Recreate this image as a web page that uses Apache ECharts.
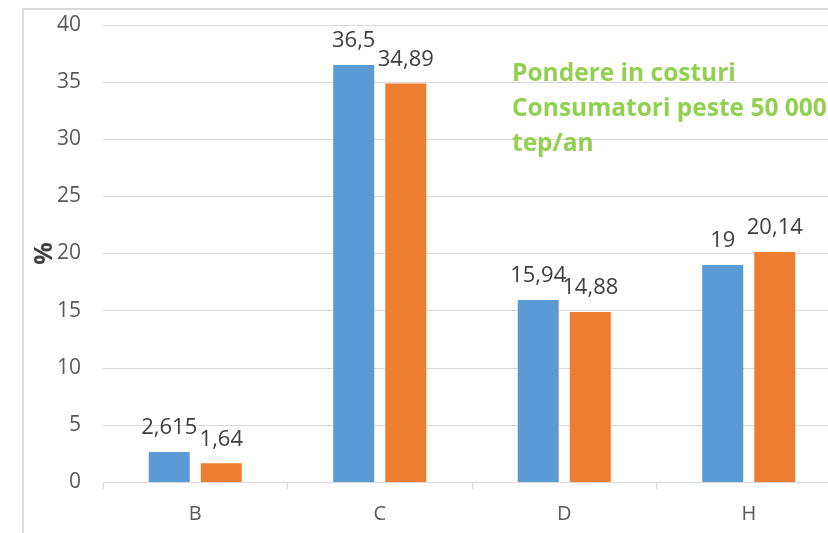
<!DOCTYPE html>
<html>
<head>
<meta charset="utf-8">
<script src="https://cdn.jsdelivr.net/npm/echarts@6/dist/echarts.min.js"></script>
<style>
  html, body { margin: 0; padding: 0; background: #fff; }
  #chart { width: 828px; height: 533px; }
</style>
</head>
<body>
<div id="chart"></div>
<script>
// date
var categories = ['B', 'C', 'D', 'H'];
var serieA = [2.615, 36.5, 15.94, 19];
var serieB = [1.64, 34.89, 14.88, 20.14];
var yTicks = { min: 0, max: 40, interval: 5 };
var titleLines = ['Pondere in costuri', 'Consumatori peste 50 000', 'tep/an'];

var font = 'Open Sans';

function fmt(p) {
  return String(p.value).replace('.', ',');
}

var dom = echarts.init(document.getElementById('chart'), null, { renderer: 'canvas' });

var labelStyle = {
  show: true,
  position: 'top',
  formatter: fmt,
  color: '#404040',
  fontFamily: font,
  fontSize: 22,
  distance: 13
};

var option = {
  backgroundColor: '#fff',
  animation: false,
  title: {
    text: titleLines.join('\n'),
    left: 507,
    top: 52,
    textStyle: {
      color: '#92D050',
      fontFamily: font,
      fontWeight: 'bold',
      fontSize: 24.5,
      lineHeight: 35
    }
  },
  graphic: [{
    type: 'rect',
    shape: { x: 23, y: 9, width: 900, height: 700 },
    style: { fill: 'none', stroke: '#D9D9D9', lineWidth: 2 },
    silent: true
  }],
  grid: { left: 103, width: 738, top: 25, bottom: 51, outerBoundsMode: 'none' },
  xAxis: {
    type: 'category',
    data: categories,
    axisLine: { lineStyle: { color: '#D9D9D9', width: 1 } },
    axisTick: { show: true, length: 7, lineStyle: { color: '#D9D9D9' } },
    axisLabel: { color: '#595959', fontFamily: font, fontSize: 20, margin: 22 }
  },
  yAxis: {
    type: 'value',
    min: yTicks.min,
    max: yTicks.max,
    interval: yTicks.interval,
    name: '%',
    nameLocation: 'middle',
    nameRotate: 90,
    nameGap: 46,
    nameMoveOverlap: false,
    nameTextStyle: { color: '#404040', fontFamily: font, fontSize: 25, fontWeight: 'bold' },
    axisLine: { show: false },
    axisTick: { show: false },
    axisLabel: { color: '#595959', fontFamily: font, fontSize: 21, margin: 22 },
    splitLine: { lineStyle: { color: '#D9D9D9', width: 1 } }
  },
  series: [
    {
      name: 'A',
      type: 'bar',
      data: serieA,
      barWidth: 41,
      barGap: '27%',
      itemStyle: { color: '#5B9BD5' },
      label: labelStyle
    },
    {
      name: 'B',
      type: 'bar',
      data: serieB,
      barWidth: 41,
      itemStyle: { color: '#ED7D31' },
      label: labelStyle
    }
  ]
};

dom.setOption(option);
window.addEventListener('resize', dom.resize);
</script>
</body>
</html>
